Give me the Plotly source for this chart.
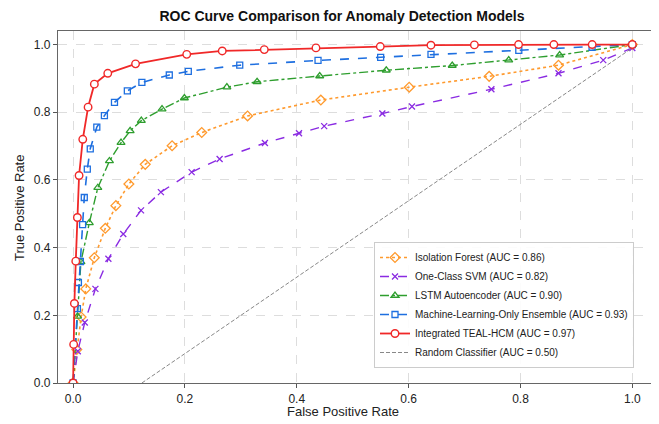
import plotly.graph_objects as go

# ---- data ----
if_fpr = [0.0, 0.0066, 0.0143, 0.0227, 0.0379, 0.0576, 0.0765, 0.0997, 0.129, 0.177, 0.230, 0.312, 0.443, 0.601, 0.744, 0.868, 1.0]
if_tpr = [0.0, 0.099, 0.195, 0.278, 0.370, 0.457, 0.524, 0.588, 0.646, 0.701, 0.740, 0.789, 0.836, 0.874, 0.906, 0.939, 1.0]

svm_fpr = [0.0, 0.0084, 0.0209, 0.0399, 0.0631, 0.0897, 0.1215, 0.157, 0.212, 0.262, 0.343, 0.404, 0.449, 0.553, 0.606, 0.748, 0.868, 0.948, 1.0]
svm_tpr = [0.0, 0.094, 0.179, 0.278, 0.367, 0.440, 0.510, 0.564, 0.623, 0.662, 0.709, 0.738, 0.759, 0.796, 0.817, 0.868, 0.915, 0.954, 0.99]

lstm_fpr = [0.0, 0.008, 0.014, 0.029, 0.0442, 0.065, 0.0857, 0.102, 0.122, 0.159, 0.199, 0.275, 0.329, 0.441, 0.560, 0.678, 0.779, 0.870, 1.0]
lstm_tpr = [0.0, 0.197, 0.358, 0.473, 0.577, 0.656, 0.710, 0.745, 0.775, 0.809, 0.842, 0.874, 0.890, 0.907, 0.924, 0.938, 0.954, 0.969, 1.0]

ml_fpr = [0.0, 0.0077, 0.0095, 0.013, 0.017, 0.020, 0.0254, 0.0307, 0.0424, 0.056, 0.074, 0.097, 0.123, 0.172, 0.206, 0.298, 0.438, 0.550, 0.640, 0.797, 0.928, 1.0]
ml_tpr = [0.0, 0.220, 0.297, 0.359, 0.468, 0.548, 0.632, 0.692, 0.756, 0.790, 0.829, 0.863, 0.888, 0.910, 0.921, 0.939, 0.953, 0.962, 0.971, 0.983, 0.992, 1.0]

teal_fpr = [0.0, 0.001, 0.0023, 0.0048, 0.0077, 0.0107, 0.0173, 0.0268, 0.038, 0.062, 0.1117, 0.2032, 0.2667, 0.3419, 0.4343, 0.5493, 0.6399, 0.7176, 0.7966, 0.8597, 0.9282, 1.0]
teal_tpr = [0.0, 0.114, 0.235, 0.360, 0.489, 0.613, 0.720, 0.815, 0.883, 0.915, 0.943, 0.971, 0.981, 0.985, 0.990, 0.994, 0.998, 0.999, 1.0, 1.0, 1.0, 1.0]

rand_fpr = [0.123, 1.0]
rand_tpr = [0.0, 0.99]

names = [
    "Isolation Forest (AUC = 0.86)",
    "One-Class SVM (AUC = 0.82)",
    "LSTM Autoencoder (AUC = 0.90)",
    "Machine-Learning-Only Ensemble (AUC = 0.93)",
    "Integrated TEAL-HCM (AUC = 0.97)",
    "Random Classifier (AUC = 0.50)",
]

FONT = "Liberation Sans, Arial, sans-serif"

fig = go.Figure()

fig.add_trace(go.Scatter(x=if_fpr, y=if_tpr, mode="lines+markers", name=names[0],
    line=dict(color="#FF9A2E", width=1.6, dash="dot"),
    marker=dict(symbol="diamond-open", size=7.5, color="#FF9A2E", line=dict(width=1.3))))
fig.add_trace(go.Scatter(x=svm_fpr, y=svm_tpr, mode="lines+markers", name=names[1],
    line=dict(color="#8A2BE2", width=1.4, dash="dash"),
    marker=dict(symbol="x-thin-open", size=6, color="#8A2BE2", line=dict(width=1.3, color="#8A2BE2"))))
fig.add_trace(go.Scatter(x=lstm_fpr, y=lstm_tpr, mode="lines+markers", name=names[2],
    line=dict(color="#2E9E2E", width=1.4, dash="dashdot"),
    marker=dict(symbol="triangle-up-open", size=7, color="#2E9E2E", line=dict(width=1.3))))
fig.add_trace(go.Scatter(x=ml_fpr, y=ml_tpr, mode="lines+markers", name=names[3],
    line=dict(color="#1E6FE0", width=1.6, dash="dash"),
    marker=dict(symbol="square-open", size=6, color="#1E6FE0", line=dict(width=1.3))))
fig.add_trace(go.Scatter(x=teal_fpr, y=teal_tpr, mode="lines+markers", name=names[4],
    line=dict(color="#F02828", width=1.8),
    marker=dict(symbol="circle", size=7.5, color="white", line=dict(width=1.4, color="#F02828"))))
fig.add_trace(go.Scatter(x=rand_fpr, y=rand_tpr, mode="lines", name=names[5],
    line=dict(color="#888888", width=1, dash="4px,2px")))

axis_common = dict(
    automargin=False,
    showline=True, mirror=True, linecolor="#666666", linewidth=1.2,
    ticks="outside", ticklen=4, tickcolor="#555555",
    showgrid=True, gridcolor="#DDDDDD", griddash="dash", gridwidth=1,
    zeroline=False, tickfont=dict(size=12, color="#222222", family=FONT),
    tickvals=[0, 0.2, 0.4, 0.6, 0.8, 1.0], ticktext=["0.0", "0.2", "0.4", "0.6", "0.8", "1.0"],
)

# page has an 8px body margin; target pixel positions are in window coords
OFF = 8
W, H = 659 - OFF, 424 - OFF
PL, PR, PT, PB = 58, 653, 31, 383

fig.update_layout(
    width=W, height=H,
    margin=dict(l=PL - OFF, r=659 - PR, t=PT - OFF, b=424 - PB, autoexpand=False),
    paper_bgcolor="white", plot_bgcolor="white",
    font=dict(family=FONT, color="#222222"),
    title=dict(text="<b>ROC Curve Comparison for Anomaly Detection Models</b>",
               x=(342 - OFF) / W, xref="container", xanchor="center",
               y=1 - (16 - OFF) / H, yref="container", yanchor="middle",
               font=dict(size=14, color="#111111", family=FONT)),
    xaxis=dict(range=[-0.027, 1.037], **axis_common),
    yaxis=dict(range=[0.0, 1.04], **axis_common),
    legend=dict(x=(634 - PL) / (PR - PL), y=(PB - 368) / (PB - PT), xanchor="right", yanchor="bottom",
                bgcolor="rgba(255,255,255,0.9)", bordercolor="#CCCCCC", borderwidth=1,
                font=dict(size=10, color="#222222", family=FONT)),
    annotations=[
        dict(text="False Positive Rate", xref="paper", yref="paper",
             x=(343 - PL) / (PR - PL), y=-(411 - PB) / (PB - PT), xanchor="center", yanchor="middle",
             showarrow=False, font=dict(size=13, color="#222222", family=FONT)),
        dict(text="True Positive Rate", xref="paper", yref="paper", textangle=-90,
             x=-(PL - 19) / (PR - PL), y=(PB - 208) / (PB - PT), xanchor="center", yanchor="middle",
             showarrow=False, font=dict(size=13, color="#222222", family=FONT)),
    ],
)

fig.write_html("out.html")
